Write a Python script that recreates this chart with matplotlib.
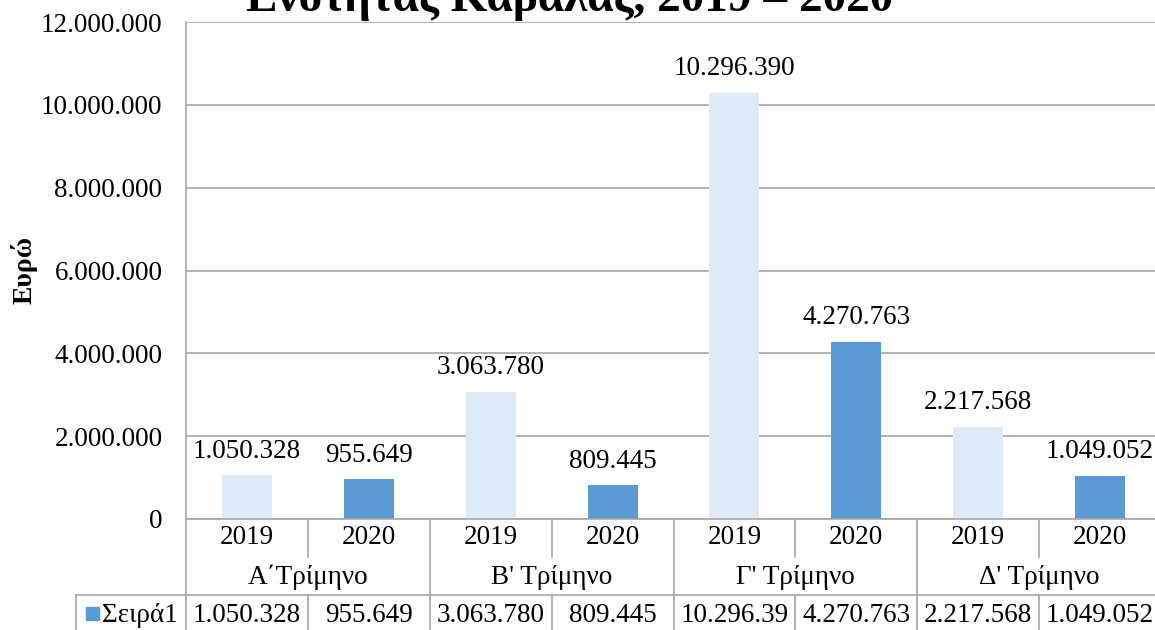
import matplotlib.pyplot as plt
import matplotlib.transforms as mtransforms
from matplotlib.patches import Rectangle

plt.rcParams['font.family'] = ['Liberation Serif', 'DejaVu Serif']

# data
quarters = ["Α΄Τρίμηνο", "Β' Τρίμηνο", "Γ' Τρίμηνο", "Δ' Τρίμηνο"]
years = ["2019", "2020"]
values = [1050328, 955649, 3063780, 809445, 10296390, 4270763, 2217568, 1049052]
# the data table in the original cuts the widest number short
table_text = ["1.050.328", "955.649", "3.063.780", "809.445",
              "10.296.39", "4.270.763", "2.217.568", "1.049.052"]
series_name = "Σειρά1"
title = "Ενότητας Καβάλας, 2019 – 2020"
ylabel = "Ευρώ"

light = "#DEEAF6"
blue = "#5B9BD5"
grey = "#A6A6A6"
W, H = 1155, 630
fs = 19.5


def fmt(v):
    return f"{v:,.0f}".replace(",", ".")


def fy(py):
    # pixel row (from top) -> figure fraction
    return 1 - py / H


fig = plt.figure(figsize=(W / 100, H / 100), dpi=100)
ax = fig.add_axes([186 / W, fy(519), (1161 - 186) / W, (519 - 22) / H])

n = len(values)
xs = [i + 0.5 for i in range(n)]
colors = [light if i % 2 == 0 else blue for i in range(n)]
bars = ax.bar(xs, values, width=0.41, color=colors, zorder=2)

for b, v in zip(bars, values):
    ax.annotate(fmt(v), (b.get_x() + b.get_width() / 2, v), xytext=(0, 8.5),
                textcoords="offset points", ha="center", va="bottom",
                fontsize=fs, color="black")

ax.set_xlim(0, n)
ax.set_ylim(0, 12000000)
ax.set_yticks(range(0, 12000001, 2000000))
ax.yaxis.set_major_formatter(plt.FuncFormatter(lambda v, p: fmt(v)))
ax.tick_params(axis="y", length=0, pad=17, labelsize=fs)
ax.set_xticks([])
ax.grid(axis="y", color=grey, linewidth=1.2, zorder=0)
ax.set_axisbelow(True)
for s in ["top", "right"]:
    ax.spines[s].set_visible(False)
for s in ["left", "bottom"]:
    ax.spines[s].set_color(grey)
    ax.spines[s].set_linewidth(1.2)

fig.text(24 / W, fy(270), ylabel, rotation=90, ha="center", va="center",
         fontsize=20, fontweight="bold")
fig.text(570 / W, fy(11), title, ha="center", va="baseline",
         fontsize=34, fontweight="bold")

# category rows and data table below the axis
tr = mtransforms.blended_transform_factory(ax.transData, fig.transFigure)
lw = 1.2
cell_left = -0.9
bot = 632


def hline(x0, x1, py):
    ax.plot([x0, x1], [fy(py), fy(py)], color=grey, lw=lw, transform=tr, clip_on=False)


def vline(x, py0, py1):
    ax.plot([x, x], [fy(py0), fy(py1)], color=grey, lw=lw, transform=tr, clip_on=False)


hline(cell_left, n, 595)
hline(cell_left, n, bot)
vline(0, 519, bot)
vline(cell_left, 595, bot)
for k in range(2, n + 1, 2):
    vline(k, 519, bot)
for k in range(1, n, 2):
    vline(k, 519, 557)
    vline(k, 595, bot)

for i, x in enumerate(xs):
    ax.text(x, fy(538), years[i % 2], transform=tr, ha="center", va="center", fontsize=fs)
    ax.text(x, fy(615), table_text[i], transform=tr, ha="center", va="center", fontsize=fs)
for q, name in enumerate(quarters):
    ax.text(2 * q + 1, fy(577), name, transform=tr, ha="center", va="center", fontsize=fs)

fig.patches.append(Rectangle((86 / W, fy(620)), 13 / W, 13 / H, color=blue,
                             transform=fig.transFigure))
fig.text(102 / W, fy(615), series_name, ha="left", va="center", fontsize=fs)

fig.savefig("out.png", dpi=100)
